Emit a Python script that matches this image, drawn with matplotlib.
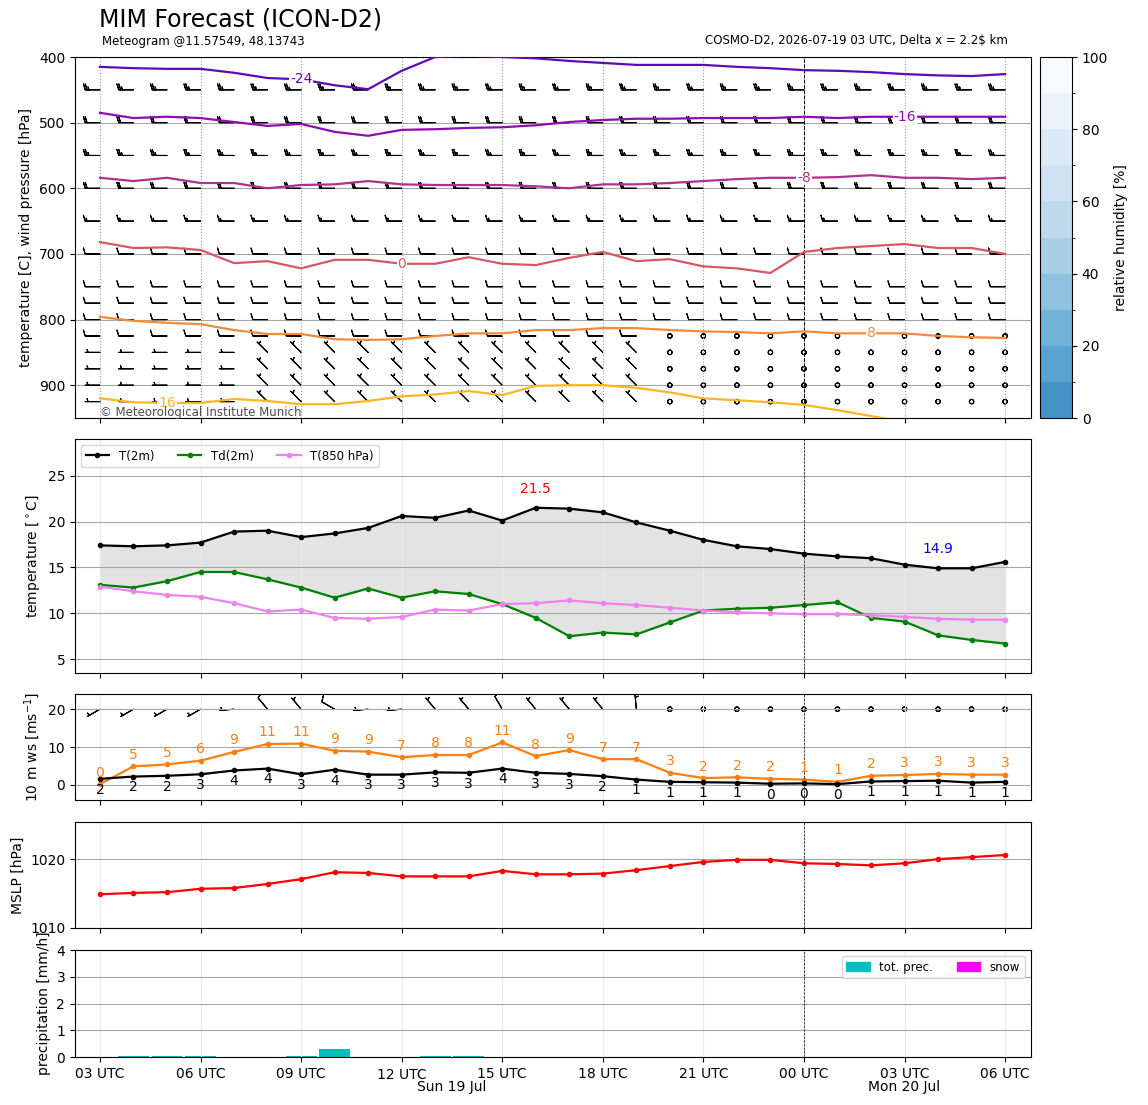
import numpy as np
import matplotlib
matplotlib.use('Agg')
import matplotlib.pyplot as plt
from matplotlib.colors import ListedColormap, BoundaryNorm
from matplotlib.cm import ScalarMappable
from matplotlib.patches import Patch
import matplotlib.transforms as mtrans

hours = np.arange(28)
tick_hours = [0, 3, 6, 9, 12, 15, 18, 21, 24, 27]
tick_labels = ['03 UTC', '06 UTC', '09 UTC', '12 UTC', '15 UTC', '18 UTC', '21 UTC', '00 UTC', '03 UTC', '06 UTC']

# isotherm pressures [hPa] per hour
iso_m24 = [415,417,418,418,424,432,434,443,449,421,400,398,400,402,406,409,412,412,412,415,417,420,421,423,426,428,429,426]
iso_m16 = [485,493,491,493,499,505,502,514,520,511,510,508,507,504,499,496,494,494,493,493,493,491,493,491,491,491,491,491]
iso_m8 = [584,589,584,592,592,600,595,594,589,594,595,595,595,597,600,594,594,592,589,586,584,584,583,580,584,584,586,584]
iso_0 = [682,691,690,694,714,711,722,709,709,715,715,705,715,717,706,697,711,708,719,722,729,697,691,688,685,691,691,700]
iso_8 = [796,802,805,807,816,822,822,830,831,830,825,821,821,816,816,813,813,816,818,819,821,818,821,821,821,825,827,828]
iso_16 = [920,926,927,927,921,924,929,929,924,917,914,909,915,901,900,900,904,911,920,923,926,930,938,947,956,962,968,975]
isotherms = [(-24, iso_m24, '#5b0bb5', 6), (-16, iso_m16, '#8e0cb0', 24), (-8, iso_m8, '#b0318d', 21),
             (0, iso_0, '#d95763', 9), (8, iso_8, '#f28a3c', 23), (16, iso_16, '#fbb526', 2)]

# upper wind barbs [kt]
levels = [400, 450, 500, 550, 600, 650, 700, 750, 775, 800, 825, 850, 875, 900, 925]
level_speed = [15, 25, 20, 25, 20, 15, 10, 10, 10, 10, 10, 5, 5, 5, 5]
calm_from = 17
veer_from = 5

# 2m temperatures
t2m = [17.4,17.3,17.4,17.7,18.9,19.0,18.3,18.7,19.3,20.6,20.4,21.2,20.1,21.5,21.4,21.0,19.9,19.0,18.0,17.3,17.0,16.5,16.2,16.0,15.3,14.9,14.9,15.6]
td2m = [13.1,12.8,13.5,14.5,14.5,13.7,12.8,11.7,12.7,11.7,12.4,12.1,11.0,9.5,7.5,7.9,7.7,9.0,10.3,10.5,10.6,10.9,11.2,9.5,9.1,7.6,7.1,6.7]
t850 = [12.9,12.4,12.0,11.8,11.1,10.2,10.4,9.5,9.4,9.6,10.4,10.3,11.0,11.1,11.4,11.1,10.9,10.6,10.3,10.1,10.0,9.9,9.9,9.8,9.6,9.4,9.3,9.3]

# 10 m wind [m/s]
ws10 = [1.6,2.2,2.4,2.8,3.8,4.3,2.8,4.0,2.7,2.7,3.3,3.2,4.3,3.2,2.9,2.3,1.4,0.8,0.7,0.6,0.3,0.4,0.2,0.9,1.0,1.1,0.6,0.8]
gust10 = [0.2,4.9,5.4,6.4,8.7,10.8,10.9,9.0,8.8,7.3,7.9,7.9,11.2,7.6,9.2,6.8,6.8,3.2,1.8,2.0,1.6,1.4,0.8,2.4,2.6,2.9,2.7,2.7]
dir10 = [240,240,240,240,265,320,320,300,265,265,320,320,330,320,320,320,355,0,0,0,0,0,0,0,0,0,0,0]

mslp = [1014.9,1015.1,1015.2,1015.7,1015.8,1016.4,1017.1,1018.1,1018.0,1017.5,1017.5,1017.5,1018.3,1017.8,1017.8,1017.9,1018.4,1019.0,1019.6,1019.9,1019.9,1019.4,1019.3,1019.1,1019.4,1020.0,1020.3,1020.6]

prec_hours = [1, 2, 3, 6, 7, 10, 11]
prec_vals = [0.04, 0.05, 0.05, 0.04, 0.3, 0.04, 0.04]

fig = plt.figure(figsize=(11.48, 11.05), dpi=100)
L, W = 0.0653, 0.8327
xlim = (-0.745, 27.77)
ax1 = fig.add_axes([L, 0.6217, W, 0.3267])
ax2 = fig.add_axes([L, 0.391, W, 0.2118])
ax3 = fig.add_axes([L, 0.276, W, 0.0959])
ax4 = fig.add_axes([L, 0.1602, W, 0.0959])
ax5 = fig.add_axes([L, 0.0434, W, 0.0968])
cax = fig.add_axes([1040/1148, 0.6217, 32/1148, 0.3267])

fig.text(99/1148, 1-20/1105, 'MIM Forecast (ICON-D2)', fontsize=17, va='center')
fig.text(102/1148, 1-41/1105, 'Meteogram @11.57549, 48.13743', fontsize=8.5, va='center')
fig.text(1008/1148, 1-41/1105, 'COSMO-D2, 2026-07-19 03 UTC, Delta x = 2.2$ km', fontsize=8.5, va='center', ha='right')

# top panel
for val, p, col, lab in isotherms:
    ax1.plot(hours, p, color=col, lw=1.6, zorder=3)
    ax1.text(hours[lab], p[lab], str(val), color=col, fontsize=10, ha='center', va='center',
             bbox=dict(fc='white', ec='none', pad=0.5), zorder=4)
for i, lev in enumerate(levels):
    spd = np.full(28, float(level_speed[i]))
    d = np.full(28, 270.0)
    if lev >= 850:
        d[veer_from:] = 315
    if lev >= 825:
        spd[calm_from:] = 0
    u = -spd * np.sin(np.radians(d))
    v = -spd * np.cos(np.radians(d))
    ax1.barbs(hours, np.full(28, lev), u, v, length=4.6, linewidth=0.8, zorder=2)
ax1.set_ylim(950, 400)
ax1.set_yticks([400, 500, 600, 700, 800, 900])
ax1.set_ylabel('temperature [C], wind pressure [hPa]', fontsize=10)
ax1.grid(axis='y', color='0.65')
for h in tick_hours:
    ax1.axvline(h, color='0.6', ls=':', lw=0.8)
ax1.axvline(21, color='k', ls='--', lw=0.7)
ax1.text(0, 941, '© Meteorological Institute Munich', fontsize=8.5, color='0.3', va='center', zorder=5)

cols = plt.cm.Blues(np.linspace(0.62, 0.0, 10))
cb = fig.colorbar(ScalarMappable(norm=BoundaryNorm(np.arange(0, 101, 10), 10), cmap=ListedColormap(cols)), cax=cax)
cb.set_ticks([0, 20, 40, 60, 80, 100])
cb.set_label('relative humidity [%]', fontsize=10)
cb.outline.set_linewidth(0.8)

# temperature panel
ax2.fill_between(hours, t2m, td2m, color='0.89')
ax2.plot(hours, t2m, 'k.-', lw=1.6, ms=6, label='T(2m)')
ax2.plot(hours, td2m, '.-', color='green', lw=1.6, ms=6, label='Td(2m)')
ax2.plot(hours, t850, '.-', color='violet', lw=1.6, ms=6, label='T(850 hPa)')
imax = int(np.argmax(t2m)); imin = int(np.argmin(t2m))
ax2.text(hours[imax], t2m[imax] + 1.3, f'{t2m[imax]:.1f}', color='red', fontsize=10, ha='center', va='bottom')
ax2.text(hours[imin], t2m[imin] + 1.3, f'{t2m[imin]:.1f}', color='blue', fontsize=10, ha='center', va='bottom')
ax2.set_ylim(3.5, 29)
ax2.set_yticks([5, 10, 15, 20, 25])
ax2.set_ylabel('temperature [$^\\circ$C]', fontsize=10)
ax2.legend(loc='upper left', ncol=3, fontsize=8.5)

# 10 m wind panel
ax3.plot(hours, gust10, '.-', color='tab:orange', lw=1.6, ms=6)
ax3.plot(hours, ws10, 'k.-', lw=1.6, ms=6)
for h, g, w in zip(hours, gust10, ws10):
    ax3.text(h, g + 1.2, f'{np.round(g):.0f}', color='tab:orange', fontsize=10, ha='center', va='bottom')
    ax3.text(h, w - 1.0, f'{np.round(w):.0f}', color='k', fontsize=10, ha='center', va='top')
s10 = np.array(ws10) * 1.94
u10 = -s10 * np.sin(np.radians(dir10))
v10 = -s10 * np.cos(np.radians(dir10))
ax3.barbs(hours, np.full(28, 20), u10, v10, length=4.6, linewidth=0.8, rounding=True)
ax3.set_ylim(-4, 24)
ax3.set_yticks([0, 10, 20])
ax3.set_ylabel('10 m ws [ms$^{-1}$]', fontsize=10)

# MSLP panel
ax4.plot(hours, mslp, 'r.-', lw=1.6, ms=6)
ax4.set_ylim(1010, 1025.4)
ax4.set_yticks([1010, 1020])
ax4.set_ylabel('MSLP [hPa]', fontsize=10)

# precipitation panel
ax5.bar(prec_hours, prec_vals, width=0.92, color='c')
ax5.set_ylim(0, 4)
ax5.set_yticks([0, 1, 2, 3, 4])
ax5.set_ylabel('precipitation [mm/h]', fontsize=10)
ax5.legend(handles=[Patch(color='c', label='tot. prec.'), Patch(color='magenta', label='snow')],
           loc='upper right', ncol=2, fontsize=8.5)

for ax in [ax1, ax2, ax3, ax4, ax5]:
    ax.set_xlim(*xlim)
    ax.set_xticks(tick_hours)
    if ax is not ax1:
        ax.grid(axis='y', color='0.65')
        ax.grid(axis='x', color='0.92')
        ax.axvline(21, color='k', ls='--', lw=0.5)
    if ax is ax5:
        ax.set_xticklabels(tick_labels)
    else:
        ax.set_xticklabels([])
    ax.tick_params(labelsize=10)
ax5.get_xticklabels()[3].set_y(-0.008)
trans = mtrans.blended_transform_factory(ax5.transData, ax5.transAxes)
ax5.text(10.5, -0.28, 'Sun 19 Jul', fontsize=10, ha='center', va='center', transform=trans)
ax5.text(24, -0.28, 'Mon 20 Jul', fontsize=10, ha='center', va='center', transform=trans)

fig.savefig('out.png', dpi=100)
